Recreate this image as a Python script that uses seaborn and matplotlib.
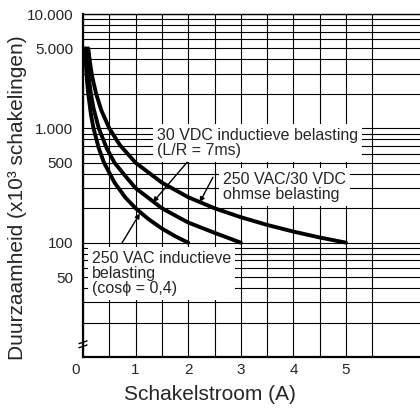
import numpy as np
import pandas as pd
import matplotlib
matplotlib.use('Agg')
import matplotlib.pyplot as plt
import matplotlib.transforms as mtransforms
import seaborn as sns
from matplotlib.ticker import FixedLocator, NullFormatter

# curves: current (A) vs. life (x1000 operations)
ac_ind_x = [0.04, 0.06, 0.08, 0.1, 0.15, 0.2, 0.3, 0.4, 0.6, 0.8, 1.0, 1.25, 1.5, 1.75, 2.0]
ac_ind_y = [5000, 3300, 2500, 2000, 1330, 1000, 670, 500, 335, 250, 200, 160, 133, 114, 100]

dc_ind_x = [0.06, 0.08, 0.1, 0.15, 0.2, 0.3, 0.45, 0.6, 0.8, 1.0, 1.25, 1.5, 2.0, 2.5, 3.0]
dc_ind_y = [5000, 3700, 3000, 2000, 1500, 1000, 670, 500, 385, 300, 245, 200, 150, 122, 100]

res_x = [0.1, 0.13, 0.17, 0.25, 0.35, 0.5, 0.7, 1.0, 1.5, 2.0, 2.5, 3.0, 3.5, 4.0, 4.5, 5.0]
res_y = [5000, 3850, 2900, 2000, 1430, 1000, 715, 500, 335, 250, 200, 167, 143, 125, 111, 100]

y_major = [50, 100, 500, 1000, 5000, 10000]
y_major_labels = ['50', '100', '500', '1.000', '5.000', '10.000']
x_major = [0, 1, 2, 3, 4, 5]
x_major_labels = ['0', '1', '2', '3', '4', '5']

df = pd.concat([
    pd.DataFrame({'A': ac_ind_x, 'N': ac_ind_y, 'last': '250 VAC inductief'}),
    pd.DataFrame({'A': dc_ind_x, 'N': dc_ind_y, 'last': '30 VDC inductief'}),
    pd.DataFrame({'A': res_x, 'N': res_y, 'last': 'ohms'}),
])

sns.set_style('white')
plt.rcParams['font.family'] = ['Liberation Sans', 'DejaVu Sans']

fig = plt.figure(figsize=(4.2, 4.11), dpi=100)
ax = fig.add_axes([83 / 420, 54 / 411, 337 / 420, 343 / 411])

sns.lineplot(data=df, x='A', y='N', hue='last', estimator=None,
             palette={k: 'black' for k in df['last'].unique()},
             linewidth=2.8, legend=False, ax=ax, zorder=4)

ax.set_yscale('log')
ax.set_xlim(0, 337 / 52.6)
ax.set_ylim(10, 10000)

# grid: every half amp, every log step
ax.set_xticks(x_major, x_major_labels)
ax.xaxis.set_minor_locator(FixedLocator(np.arange(0.5, 6.5, 1.0)))
ax.set_yticks(y_major, y_major_labels)
y_minor = [m * 10 ** e for e in range(1, 4) for m in range(1, 10)]
ax.yaxis.set_minor_locator(FixedLocator([v for v in y_minor if v not in y_major]))
ax.yaxis.set_minor_formatter(NullFormatter())
ax.grid(which='both', color='black', linewidth=0.8)
ax.tick_params(which='both', length=0, labelsize=11)
ax.tick_params(axis='y', pad=7)
ax.tick_params(axis='x', pad=4)

for s in ['left', 'bottom']:
    ax.spines[s].set_color('black')
    ax.spines[s].set_linewidth(1.6)
ax.spines['right'].set_visible(False)
ax.spines['top'].set_color('black')
ax.spines['top'].set_linewidth(1.0)

# shift the "0" slightly left as on the original
lbl0 = ax.get_xticklabels()[0]
lbl0.set_transform(lbl0.get_transform() + mtransforms.ScaledTranslation(-0.07, 0, fig.dpi_scale_trans))

ax.set_xlabel('Schakelstroom (A)', fontsize=15)
ax.set_ylabel('Duurzaamheid (x10³ schakelingen)', fontsize=15)
ax.xaxis.set_label_coords(0.377, -0.082)
ax.yaxis.set_label_coords(-0.165, 0.465)

box = dict(facecolor='white', edgecolor='none', pad=3)
ax.text(1.41, 740, '30 VDC inductieve belasting\n(L/R = 7ms)', fontsize=11.5,
        ha='left', va='center', linespacing=1.0, bbox=box, zorder=3)
ax.text(2.66, 305, '250 VAC/30 VDC\nohmse belasting', fontsize=11.5,
        ha='left', va='center', linespacing=1.0, bbox=box, zorder=3)
ax.text(0.17, 54, '250 VAC inductieve\nbelasting\n(cos\u03d5 = 0,4)', fontsize=11.5,
        ha='left', va='center', linespacing=1.0, bbox=box, zorder=3)

arrow = dict(arrowstyle='-|>', color='black', lw=1.0, mutation_scale=7, shrinkA=0, shrinkB=0)
ax.annotate('', xy=(1.33, 226), xytext=(1.98, 505), arrowprops=arrow, zorder=5)
ax.annotate('', xy=(2.22, 226), xytext=(2.47, 373), arrowprops=arrow, zorder=5)
ax.annotate('', xy=(1.08, 180), xytext=(0.74, 99), arrowprops=arrow, zorder=5)

# axis break mark near the bottom of the y axis
for yb in (0.043, 0.031):
    ax.plot([-0.012, 0.012], [yb - 0.004, yb + 0.004], color='black', lw=1.0,
            transform=ax.transAxes, clip_on=False, zorder=6)

fig.savefig('out.png', dpi=100)
